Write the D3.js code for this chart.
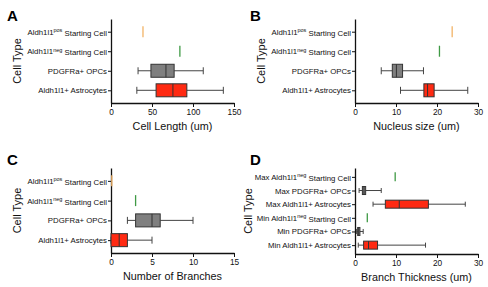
<!DOCTYPE html>
<html>
<head>
<meta charset="utf-8">
<script src="https://cdn.jsdelivr.net/npm/d3@7"></script>
<style>
  body { margin: 0; background: #fff; }
  svg { display: block; font-family: "Liberation Sans", Arial, sans-serif; }
</style>
</head>
<body>
<div id="chart"></div>
<script>
// categories (top to bottom); "^" marks superscript part
const catsABC = ['Aldh1l1^pos^ Starting Cell', 'Aldh1l1^neg^ Starting Cell', 'PDGFRa+ OPCs', 'Aldh1l1+ Astrocytes']
const catsD = ['Max Aldh1l1^neg^ Starting Cell', 'Max PDGFRa+ OPCs', 'Max Aldh1l1+ Astrocytes',
  'Min Aldh1l1^neg^ Starting Cell', 'Min PDGFRa+ OPCs', 'Min Aldh1l1+ Astrocytes']

// box values: [min, q1, median, q3, max]; single cells have one value
const cellLength = [[39], [84], [33, 48.7, 67, 77, 112.5], [31.5, 55, 75.5, 92.5, 137]]
const nucleusSize = [[23.7], [20.6], [6.4, 9.1, 10.1, 11.6, 16.7], [11.1, 16.8, 17.7, 19.3, 27.5]]
const branches = [[0.1], [3], [2, 3, 5, 6, 10], [0, 0, 1, 2, 5]]
const thickness = [[9.8], [1.0, 1.8, 2.2, 2.6, 6.4], [4.4, 7.4, 10.8, 17.9, 26.9],
  [3.0], [0.4, 0.65, 0.9, 1.2, 2.0], [0.8, 2.1, 3.3, 5.5, 17.2]]

const colsABC = ['#f2b366', '#3f9a45', '#7f7f7f', '#ff2a12']
const colsD = ['#3f9a45', '#7f7f7f', '#ff2a12', '#3f9a45', '#7f7f7f', '#ff2a12']

const ticks30 = [0, 10, 20, 30]
const ticks150 = [0, 50, 100, 150]
const ticks15 = [0, 5, 10, 15]

const svg = d3.select('#chart').append('svg').attr('width', 488).attr('height', 287)

function drawPanel(p) {
  const g = svg.append('g')
  const x = d3.scaleLinear().domain([0, p.ticks[p.ticks.length - 1]]).range([p.x0, p.x1])
  const y = d3.scalePoint().domain(p.cats).range([p.top, p.bottom]).padding(0.65)

  const xa = g.append('g').attr('transform', `translate(0,${p.bottom})`)
    .call(d3.axisBottom(x).tickValues(p.ticks).tickSize(4).tickSizeOuter(0).tickPadding(2))
  const ya = g.append('g').attr('transform', `translate(${p.x0},0)`)
    .call(d3.axisLeft(y).tickSize(3).tickSizeOuter(0).tickPadding(1))
  ;[xa, ya].forEach((a) => {
    a.select('.domain').attr('stroke', '#111').attr('stroke-width', 1.3)
    a.selectAll('.tick line').attr('stroke', '#111').attr('stroke-width', 1)
    a.selectAll('text').attr('fill', '#111').style('font-size', '7.8px')
  })
  xa.selectAll('text').style('font-size', '8.3px')

  // labels with superscripts
  ya.selectAll('.tick text').each(function (d) {
    const t = d3.select(this).text(null)
    d.split('^').forEach((part, i) => {
      const s = t.append('tspan').text(part)
      if (i % 2 === 1) s.attr('dy', '-0.45em').style('font-size', '5.5px')
      else if (i > 0) s.attr('dy', '0.45em')
    })
  })

  p.data.forEach((v, i) => {
    const cy = y(p.cats[i])
    const col = p.cols[i]
    if (v.length === 1) {
      g.append('line').attr('x1', x(v[0])).attr('x2', x(v[0]))
        .attr('y1', cy - p.lineH / 2).attr('y2', cy + p.lineH / 2)
        .attr('stroke', col).attr('stroke-width', 1.3)
      return
    }
    const [mn, q1, md, q3, mx] = v
    const w = g.append('g').attr('stroke', '#444').attr('stroke-width', 1)
    w.append('line').attr('x1', x(mn)).attr('x2', x(q1)).attr('y1', cy).attr('y2', cy)
    w.append('line').attr('x1', x(q3)).attr('x2', x(mx)).attr('y1', cy).attr('y2', cy)
    w.append('line').attr('x1', x(mn)).attr('x2', x(mn)).attr('y1', cy - p.capH / 2).attr('y2', cy + p.capH / 2)
    w.append('line').attr('x1', x(mx)).attr('x2', x(mx)).attr('y1', cy - p.capH / 2).attr('y2', cy + p.capH / 2)
    g.append('rect').attr('x', x(q1)).attr('y', cy - p.boxH / 2)
      .attr('width', Math.max(x(q3) - x(q1), 0.5)).attr('height', p.boxH)
      .attr('fill', col).attr('stroke', '#333').attr('stroke-width', 1)
    g.append('line').attr('x1', x(md)).attr('x2', x(md))
      .attr('y1', cy - p.boxH / 2).attr('y2', cy + p.boxH / 2)
      .attr('stroke', '#333').attr('stroke-width', 1)
  })

  g.append('text').attr('x', (p.x0 + p.x1) / 2).attr('y', p.bottom + 27)
    .attr('text-anchor', 'middle').style('font-size', '10.8px').attr('fill', '#111').text(p.xTitle)
  g.append('text').attr('transform', `translate(${p.yTitleX},${(p.top + p.bottom) / 2}) rotate(-90)`)
    .attr('text-anchor', 'middle').style('font-size', '11px').attr('fill', '#111').text('Cell Type')
  g.append('text').attr('x', p.lx).attr('y', p.ly)
    .style('font-size', '15px').style('font-weight', 'bold').attr('fill', '#000').text(p.letter)
}

drawPanel({ letter: 'A', lx: 7, ly: 21, x0: 111, x1: 234, top: 19, bottom: 103, cats: catsABC,
  data: cellLength, cols: colsABC, ticks: ticks150, xTitle: 'Cell Length (um)', yTitleX: 21,
  boxH: 13, capH: 7, lineH: 11 })
drawPanel({ letter: 'B', lx: 250, ly: 21, x0: 355, x1: 478, top: 19, bottom: 103, cats: catsABC,
  data: nucleusSize, cols: colsABC, ticks: ticks30, xTitle: 'Nucleus size (um)', yTitleX: 265,
  boxH: 13, capH: 7, lineH: 11 })
drawPanel({ letter: 'C', lx: 7, ly: 165, x0: 111, x1: 234, top: 168, bottom: 253, cats: catsABC,
  data: branches, cols: colsABC, ticks: ticks15, xTitle: 'Number of Branches', yTitleX: 21,
  boxH: 13, capH: 7, lineH: 11 })
drawPanel({ letter: 'D', lx: 250, ly: 165, x0: 355, x1: 478, top: 168, bottom: 254, cats: catsD,
  data: thickness, cols: colsD, ticks: ticks30, xTitle: 'Branch Thickness (um)', yTitleX: 252,
  boxH: 8, capH: 5, lineH: 9 })
</script>
</body>
</html>
